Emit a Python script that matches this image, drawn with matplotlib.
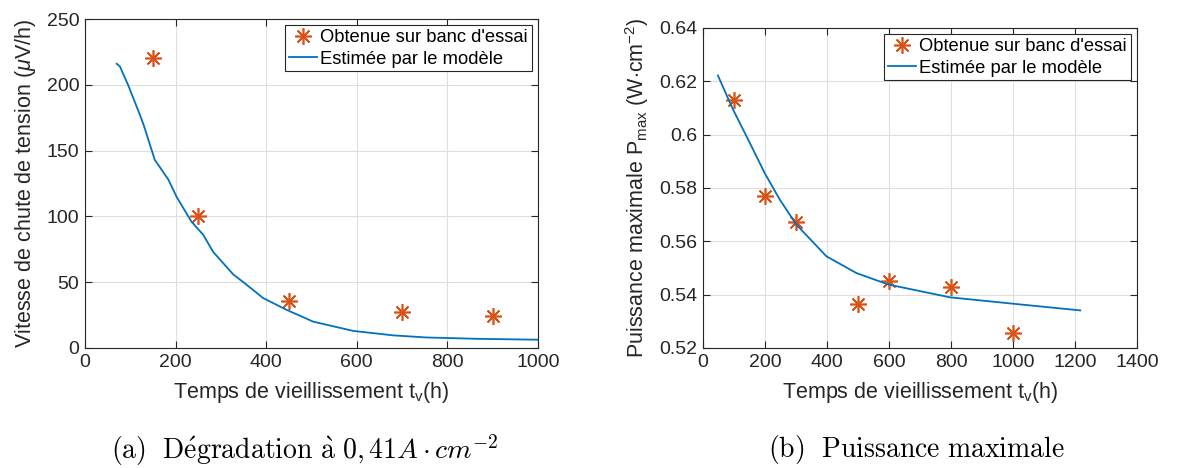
import matplotlib.pyplot as plt
from matplotlib.ticker import FuncFormatter
import numpy as np

plt.rcParams['font.family'] = ['Liberation Sans', 'DejaVu Sans']
plt.rcParams['mathtext.fontset'] = 'custom'
plt.rcParams['mathtext.rm'] = 'Liberation Sans'
plt.rcParams['mathtext.it'] = 'Liberation Sans:italic'

# (a) degradation speed
a_meas_t = [150, 250, 450, 700, 900]
a_meas_v = [220, 100, 36, 27, 24]
a_mod_t = [70, 77, 95, 118, 129, 154, 184, 202, 235, 261, 283, 327, 357, 393,
           445, 504, 592, 680, 754, 864, 1000]
a_mod_v = [216, 214, 200, 180, 170, 143, 128, 115, 96, 86, 73, 56, 48, 38,
           29, 20, 13, 9.6, 8, 7, 6.3]

# (b) max power
b_meas_t = [100, 200, 300, 500, 600, 800, 1000]
b_meas_p = [0.6129, 0.5769, 0.5671, 0.5366, 0.5453, 0.5428, 0.5256]
b_mod_t = [48, 97, 151, 199, 248, 301, 398, 495, 598, 797, 1001, 1217]
b_mod_p = [0.6222, 0.6094, 0.5969, 0.5856, 0.5756, 0.5663, 0.5544, 0.5481,
           0.5438, 0.539, 0.5366, 0.5341]

orange = '#D95319'
blue = '#0072BD'
axcol = '#262626'

fig = plt.figure(figsize=(11.85, 4.68), dpi=100)
ax1 = fig.add_axes([85 / 1185, 1 - 348 / 468, (538 - 85) / 1185, (348 - 19) / 468])
ax2 = fig.add_axes([703 / 1185, 1 - 348 / 468, (1137 - 703) / 1185, (348 - 28) / 468])


def style(ax):
    ax.grid(True, color='#dfdfdf', lw=0.8)
    ax.set_axisbelow(True)
    ax.tick_params(direction='in', top=True, right=True, labelsize=14,
                   colors=axcol, length=5, pad=4)
    for s in ax.spines.values():
        s.set_color(axcol)
        s.set_linewidth(0.8)


ax1.plot(a_meas_t, a_meas_v, ls='none', marker=(8, 2, 0), ms=12, mew=1.2,
         color=orange, label="Obtenue sur banc d'essai")
ax1.plot(a_mod_t, a_mod_v, color=blue, lw=1.3, label='Estimée par le modèle')
ax1.set_xlim(0, 1000)
ax1.set_ylim(0, 250)
ax1.set_xticks(np.arange(0, 1001, 200))
ax1.set_yticks(np.arange(0, 251, 50))
style(ax1)
ax1.set_xlabel(r'Temps de vieillissement t$_\mathrm{v}$(h)', fontsize=15.5, color=axcol, labelpad=7)
ax1.set_ylabel(r'Vitesse de chute de tension ($\mu$V/h)', fontsize=15.5, color=axcol, labelpad=6)

ax2.plot(b_meas_t, b_meas_p, ls='none', marker=(8, 2, 0), ms=12, mew=1.2,
         color=orange, label="Obtenue sur banc d'essai")
ax2.plot(b_mod_t, b_mod_p, color=blue, lw=1.3, label='Estimée par le modèle')
ax2.set_xlim(0, 1400)
ax2.set_ylim(0.52, 0.64)
ax2.set_xticks(np.arange(0, 1401, 200))
ax2.set_yticks(np.arange(0.52, 0.6401, 0.02))
ax2.yaxis.set_major_formatter(FuncFormatter(lambda v, p: '%g' % round(v, 2)))
style(ax2)
ax2.set_xlabel(r'Temps de vieillissement t$_\mathrm{v}$(h)', fontsize=15.5, color=axcol, labelpad=7)
ax2.set_ylabel(r'Puissance maximale P$_\mathrm{max}$ (W$\cdot$cm$^{\mathrm{-2}}$)', fontsize=15.5,
               color=axcol, labelpad=6)

for ax in (ax1, ax2):
    leg = ax.legend(loc='upper right', fontsize=13.2, fancybox=False, framealpha=1,
                    edgecolor=axcol, handlelength=1.5, handletextpad=0.2,
                    borderpad=0.2, labelspacing=0.25, borderaxespad=0.35)
    leg.get_frame().set_linewidth(0.8)

cap = dict(fontsize=20, ha='center', va='center', math_fontfamily='cm')
fig.text(305 / 1185, 1 - 450 / 468,
         r'$\mathrm{(a)\ \ D\acute{e}gradation\ \grave{a}\ }0,41A\cdot cm^{-2}$', **cap)
fig.text(916 / 1185, 1 - 450 / 468,
         r'$\mathrm{(b)\ \ Puissance\ maximale}$', **cap)

fig.savefig('out.png', dpi=100)
